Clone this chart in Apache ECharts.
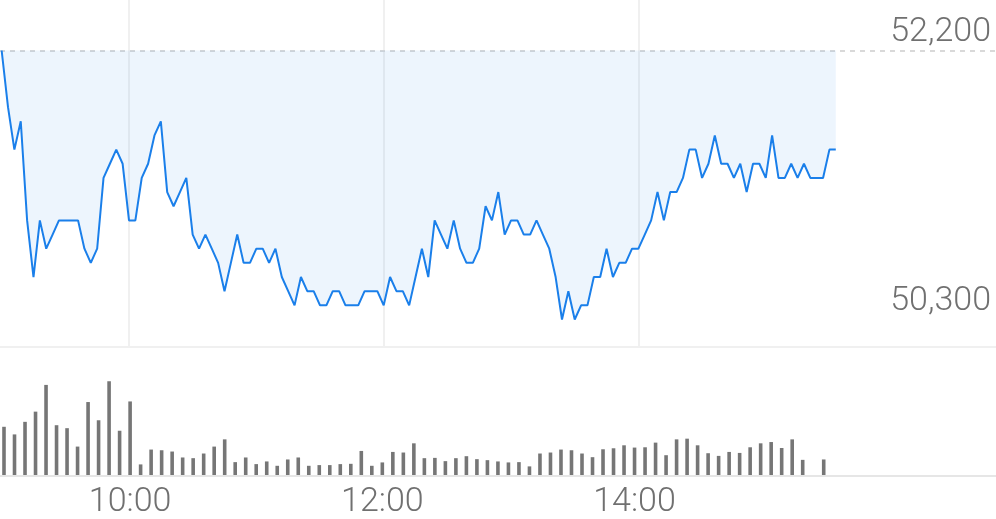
<!DOCTYPE html>
<html>
<head>
<meta charset="utf-8">
<script src="https://cdn.jsdelivr.net/npm/echarts@6/dist/echarts.min.js"></script>
<style>
html,body{margin:0;padding:0;background:#ffffff;}
#chart{width:996px;height:519px;}
</style>
</head>
<body>
<div id="chart"></div>
<script>
// ---- data ----
const sessionStart = '09:00';
const priceStepMinutes = 3;
const prices = [
  52200, 51800, 51500, 51700, 51000, 50600, 51000, 50800, 50900, 51000,
  51000, 51000, 51000, 50800, 50700, 50800, 51300, 51400, 51500, 51400,
  51000, 51000, 51300, 51400, 51600, 51700, 51200, 51100, 51200, 51300,
  50900, 50800, 50900, 50800, 50700, 50500, 50700, 50900, 50700, 50700,
  50800, 50800, 50700, 50800, 50600, 50500, 50400, 50600, 50500, 50500,
  50400, 50400, 50500, 50500, 50400, 50400, 50400, 50500, 50500, 50500,
  50400, 50600, 50500, 50500, 50400, 50600, 50800, 50600, 51000, 50900,
  50800, 51000, 50800, 50700, 50700, 50800, 51100, 51000, 51200, 50900,
  51000, 51000, 50900, 50900, 51000, 50900, 50800, 50600, 50300, 50500,
  50300, 50400, 50400, 50600, 50600, 50800, 50600, 50700, 50700, 50800,
  50800, 50900, 51000, 51200, 51000, 51200, 51200, 51300, 51500, 51500,
  51300, 51400, 51600, 51400, 51400, 51300, 51400, 51200, 51400, 51400,
  51300, 51600, 51300, 51300, 51400, 51300, 51400, 51300, 51300, 51300,
  51500, 51500
];
const volumeStepMinutes = 5;
const volumes = [
  48.7, 41, 53.7, 64, 91, 50.3, 47.3, 28.7, 73.7, 55.3,
  94.7, 44.7, 74.3, 10.7, 25.7, 25, 23.7, 17.7, 17, 21.7,
  28.7, 36, 13, 17.7, 11, 13.7, 9.3, 15.7, 17.7, 9.3,
  10, 10, 11, 11.3, 24.3, 9.3, 12.7, 23.3, 22.7, 32,
  17, 17.3, 14, 17, 19, 16, 15, 13.7, 12.7, 13,
  8.7, 21.7, 22.7, 25.7, 25, 21.7, 18, 26, 27, 30,
  27.7, 28, 32.7, 20, 36, 36.7, 30, 22, 19.3, 23.3,
  22.3, 28, 32, 33.3, 27.3, 36, 15.3, null, 15.7
];
const timeTicks = ['10:00', '12:00', '14:00'];
const priceLabels = [52200, 50300];
const topReference = 52200;

// ---- helpers ----
function minutesFromStart(hhmm) {
  const [h, m] = hhmm.split(':').map(Number);
  const [h0, m0] = sessionStart.split(':').map(Number);
  return (h * 60 + m) - (h0 * 60 + m0);
}
function minutesToLabel(min) {
  const [h0, m0] = sessionStart.split(':').map(Number);
  const t = h0 * 60 + m0 + min;
  const h = Math.floor(t / 60), m = t % 60;
  return (h < 10 ? '0' : '') + h + ':' + (m < 10 ? '0' : '') + m;
}
const tickMinutes = timeTicks.map(minutesFromStart);
const priceData = prices.map((p, i) => [i * priceStepMinutes, p]);
const volumeData = [];
volumes.forEach((v, j) => { if (v !== null) volumeData.push([j * volumeStepMinutes, v]); });

const textColor = '#707070';
const fontFamily = 'Roboto, "Noto Sans", sans-serif';

const chart = echarts.init(document.getElementById('chart'), null, { renderer: 'canvas' });
chart.setOption({
  animation: false,
  backgroundColor: '#ffffff',
  grid: [
    { left: 0, right: 0, top: 0, height: 347 },
    { left: 0, right: 0, top: 376, height: 100 }
  ],
  xAxis: [
    {
      gridIndex: 0, type: 'value', min: -0.777, max: 468.48,
      axisLine: { show: true, onZero: false, lineStyle: { color: '#f0f0f0', width: 2 } },
      axisTick: { show: false }, axisLabel: { show: false }, splitLine: { show: false }
    },
    {
      gridIndex: 1, type: 'value', min: -1.903, max: 471.97, offset: 1,
      axisLine: { show: true, onZero: false, lineStyle: { color: '#e6e6e6', width: 2 } },
      axisTick: { show: false },
      splitLine: { show: false },
      axisLabel: {
        show: true, customValues: tickMinutes, formatter: (v) => minutesToLabel(v),
        fontSize: 34, color: textColor, fontFamily: fontFamily, fontWeight: 300, margin: 9
      }
    }
  ],
  yAxis: [
    {
      gridIndex: 0, type: 'value', min: 50105.8, max: 52556.7, position: 'right',
      axisLine: { show: false }, axisTick: { show: false }, splitLine: { show: false },
      axisLabel: {
        show: true, inside: true, customValues: priceLabels,
        formatter: (v) => Math.round(v).toLocaleString('en-US'),
        fontSize: 34, color: textColor, fontFamily: fontFamily, fontWeight: 300,
        verticalAlign: 'bottom', padding: [0, 0, 1, 0], margin: 5
      }
    },
    { gridIndex: 1, type: 'value', min: 0, max: 100, show: false }
  ],
  series: [
    {
      type: 'line', xAxisIndex: 0, yAxisIndex: 0, data: priceData,
      symbol: 'none', silent: true,
      lineStyle: { color: '#1a7fea', width: 2 },
      areaStyle: { origin: topReference, color: 'rgba(26,127,234,0.11)' },
      markLine: {
        silent: true, symbol: 'none', z: 1, label: { show: false },
        data: [
          ...tickMinutes.map(m => ({ xAxis: m, lineStyle: { color: '#f0f0f0', width: 2, type: 'solid' } })),
          { yAxis: topReference, lineStyle: { color: '#d9d9d9', width: 2, type: [5, 5] } }
        ]
      }
    },
    {
      type: 'bar', xAxisIndex: 1, yAxisIndex: 1, data: volumeData,
      barWidth: 3.6, silent: true,
      itemStyle: { color: '#767676' }
    }
  ]
});
</script>
</body>
</html>
